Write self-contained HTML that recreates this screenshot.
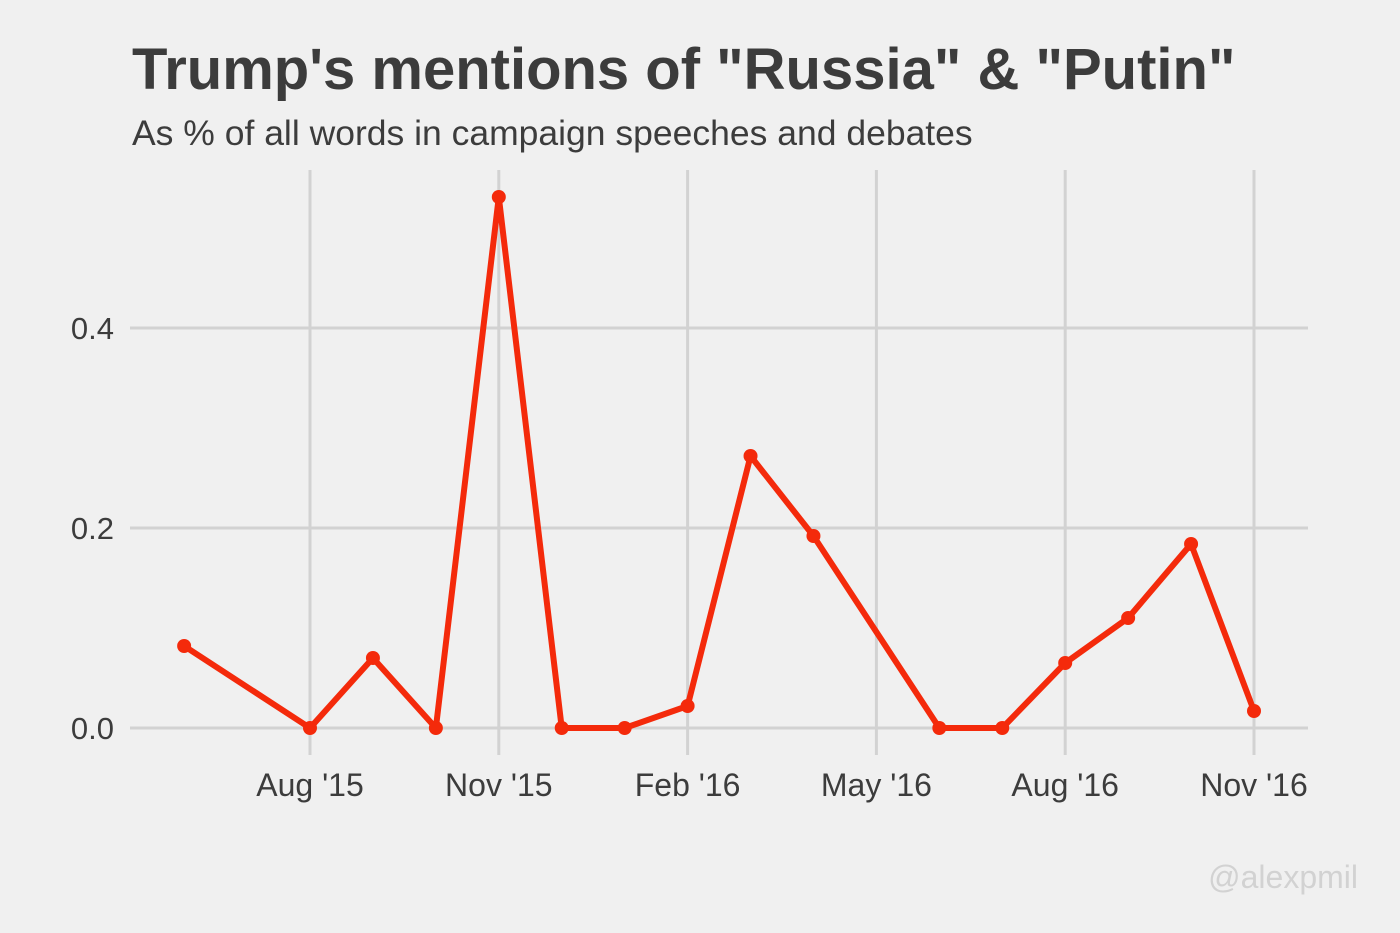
<!DOCTYPE html>
<html><head><meta charset="utf-8"><style>
html,body{margin:0;padding:0;background:#f0f0f0;}
svg{display:block;font-family:"Liberation Sans",sans-serif;}
</style></head><body>
<svg id="chart" width="1400" height="933">
<rect width="1400" height="933" fill="#f0f0f0"/>
<text x="132" y="89" font-size="58" font-weight="bold" fill="#3c3c3c">Trump's mentions of "Russia" &amp; "Putin"</text>
<text x="132" y="145" font-size="35.5" fill="#3c3c3c">As % of all words in campaign speeches and debates</text>
<g id="grid"></g><g id="axes"></g><g id="series"></g>
<text x="1358" y="888" font-size="32" fill="#d2d2d2" text-anchor="end">@alexpmil</text>
</svg>
<script>
const months=[0,2,3,4,5,6,7,8,9,10,12,13,14,15,16,17]; // months since Jun '15
const values=[0.082,0,0.07,0,0.531,0,0,0.022,0.272,0.192,0,0,0.065,0.11,0.184,0.017];
const xTickMonths=[2,5,8,11,14,17];
const xTickLabels=["Aug '15","Nov '15","Feb '16","May '16","Aug '16","Nov '16"];
const yTicks=[0,0.2,0.4];
const yTickLabels=["0.0","0.2","0.4"];
const NS="http://www.w3.org/2000/svg";
const x=m=>310+(m-2)*(944/15);
const y=v=>728-v*1000;
function mk(tag,attrs,parent){const e=document.createElementNS(NS,tag);for(const k in attrs)e.setAttribute(k,attrs[k]);parent.appendChild(e);return e;}
const grid=document.getElementById('grid'),axes=document.getElementById('axes'),series=document.getElementById('series');
yTicks.forEach((t,i)=>{
 const l=mk('line',{x1:130,x2:1308,y1:y(t),y2:y(t),stroke:'#d2d2d2','stroke-width':3},grid);
 
 
 const tx=mk('text',{x:114,y:y(t)+11,'font-size':31,fill:'#3c3c3c','text-anchor':'end'},axes);
 tx.textContent=yTickLabels[i];
 
 
});
xTickMonths.forEach((m,i)=>{
 const l=mk('line',{x1:x(m),x2:x(m),y1:170,y2:755,stroke:'#d2d2d2','stroke-width':3},grid);
 
 
 const tx=mk('text',{x:x(m),y:796,'font-size':32,fill:'#3c3c3c','text-anchor':'middle'},axes);
 tx.textContent=xTickLabels[i];
 
 
});
const pts=months.map((m,i)=>x(m)+','+y(values[i])).join(' ');
const pl=mk('polyline',{points:pts,fill:'none',stroke:'#f42a0b','stroke-width':6,'stroke-linejoin':'round'},series);


months.forEach((m,i)=>{
 const c=mk('circle',{cx:x(m),cy:y(values[i]),r:7,fill:'#f42a0b'},series);
 
 
});
</script>
</body></html>
